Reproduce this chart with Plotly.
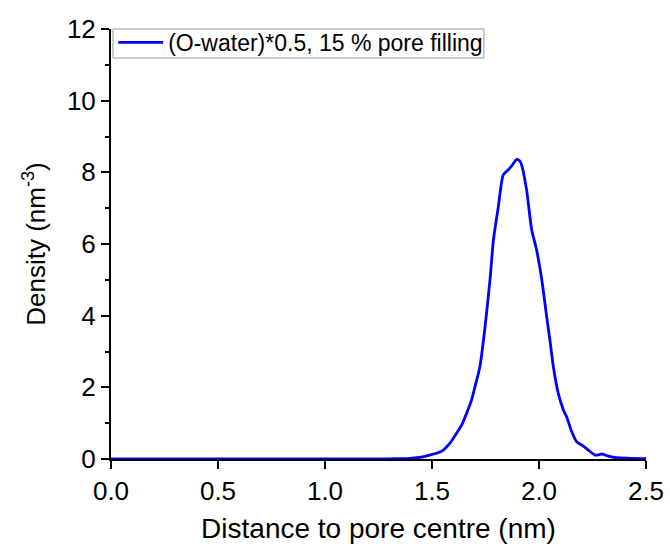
import plotly.graph_objects as go

# Data
distance_nm = [0.0, 0.2, 0.4, 0.6, 0.8, 1.0, 1.2, 1.3, 1.35, 1.4, 1.45, 1.49, 1.521, 1.553, 1.584,
               1.615, 1.639, 1.662, 1.685,
               1.701, 1.724, 1.748, 1.771, 1.787, 1.81, 1.833, 1.857, 1.875, 1.896, 1.91, 1.919,
               1.942, 1.966, 1.989, 2.013, 2.036, 2.051, 2.067, 2.09, 2.114, 2.129, 2.153,
               2.176, 2.207, 2.23, 2.262, 2.28, 2.293, 2.324, 2.363, 2.425, 2.5]
density = [0.0, 0.0, 0.0, 0.0, 0.0, 0.0, 0.0, 0.005, 0.01, 0.02, 0.05, 0.11, 0.16, 0.25, 0.44,
           0.72, 0.95, 1.28, 1.65,
           2.02, 2.58, 3.69, 5.0, 6.11, 7.04, 7.93, 8.07, 8.2, 8.36, 8.32, 8.2,
           7.51, 6.39, 5.83, 5.0, 3.97, 3.32, 2.58, 1.83, 1.37, 1.18, 0.76,
           0.48, 0.36, 0.25, 0.11, 0.12, 0.14, 0.08, 0.035, 0.02, 0.01]

series_name = "(O-water)*0.5, 15 % pore filling"
x_ticks = [0.0, 0.5, 1.0, 1.5, 2.0, 2.5]
x_ticklabels = ["0.0", "0.5", "1.0", "1.5", "2.0", "2.5"]
y_ticks = [0, 2, 4, 6, 8, 10, 12]

FONT = "Arial, 'Liberation Sans', sans-serif"

fig = go.Figure()
fig.add_trace(go.Scatter(
    x=distance_nm, y=density, mode="lines", name=series_name,
    line=dict(color="#0000ff", width=2.8, shape="spline", smoothing=0.6), cliponaxis=False,
))

fig.update_layout(
    width=670, height=547,
    margin=dict(l=111, r=24, t=29, b=88, autoexpand=False),
    plot_bgcolor="white", paper_bgcolor="white",
    font=dict(family=FONT, size=26, color="black"),
    showlegend=True,
    legend=dict(
        x=0.004, xref="paper", y=(547 - 21) / 547, yref="container",
        xanchor="left", yanchor="top",
        borderwidth=0, bgcolor="rgba(0,0,0,0)",
        font=dict(family=FONT, size=23, color="black"),
        tracegroupgap=0, itemwidth=45,
    ),
    shapes=[dict(
        type="rect", xref="paper", yref="paper",
        x0=0.0037, x1=0.697, y0=0.9326, y1=1.0,
        line=dict(color="#999999", width=1), fillcolor="rgba(0,0,0,0)", layer="above",
    )],
)

fig.update_xaxes(
    range=[0, 2.5], tickmode="array", tickvals=x_ticks, ticktext=x_ticklabels,
    showgrid=False, zeroline=False, showline=True, linecolor="black", linewidth=2,
    ticks="outside", ticklen=8, tickwidth=2, tickcolor="black", automargin=False,
    tickfont=dict(family=FONT, size=26), layer="below traces",
    title=dict(text="Distance to pore centre (nm)", font=dict(family=FONT, size=28), standoff=13),
)
fig.update_yaxes(
    range=[0, 12], tickmode="array", tickvals=y_ticks,
    showgrid=False, zeroline=False, showline=True, linecolor="black", linewidth=2,
    ticks="outside", ticklen=8, tickwidth=2, tickcolor="black", automargin=False,
    tickfont=dict(family=FONT, size=26), layer="below traces",
    minor=dict(ticks="outside", ticklen=4, tickwidth=2, tickcolor="black", dtick=1, showgrid=False),
    title=dict(text="Density (nm<sup>-3</sup>)", font=dict(family=FONT, size=26), standoff=14),
)

fig.write_html("out.html")
